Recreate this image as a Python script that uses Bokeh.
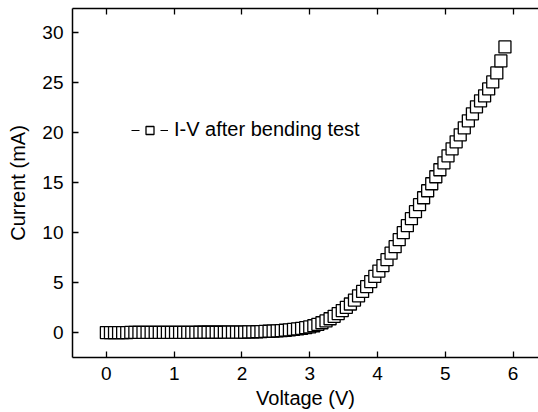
from bokeh.plotting import figure
from bokeh.models import LinearAxis, Range1d, Legend, LegendItem
from bokeh.embed import file_html
from bokeh.resources import INLINE

voltage = [0.00, 0.06, 0.12, 0.18, 0.24, 0.30, 0.36, 0.42, 0.48, 0.54,
           0.60, 0.66, 0.72, 0.78, 0.84, 0.90, 0.96, 1.02, 1.08, 1.14,
           1.20, 1.26, 1.32, 1.38, 1.44, 1.50, 1.56, 1.62, 1.68, 1.74,
           1.80, 1.86, 1.92, 1.98, 2.04, 2.10, 2.16, 2.22, 2.28, 2.34,
           2.40, 2.46, 2.52, 2.58, 2.64, 2.70, 2.76, 2.82, 2.88, 2.94,
           3.00, 3.06, 3.12, 3.18, 3.24, 3.30, 3.36, 3.42, 3.48, 3.54,
           3.60, 3.66, 3.72, 3.78, 3.84, 3.90, 3.96, 4.02, 4.08, 4.14,
           4.20, 4.26, 4.32, 4.38, 4.44, 4.50, 4.56, 4.62, 4.68, 4.74,
           4.80, 4.86, 4.92, 4.98, 5.04, 5.10, 5.16, 5.22, 5.28, 5.34,
           5.40, 5.46, 5.52, 5.58, 5.64, 5.70, 5.76, 5.82, 5.88]

current = [0.00, 0.00, 0.00, 0.00, 0.00, 0.00, 0.01, 0.01, 0.01, 0.01,
           0.01, 0.01, 0.01, 0.01, 0.01, 0.02, 0.02, 0.02, 0.02, 0.02,
           0.02, 0.02, 0.02, 0.03, 0.03, 0.03, 0.03, 0.03, 0.03, 0.03,
           0.04, 0.04, 0.04, 0.04, 0.05, 0.06, 0.07, 0.08, 0.10, 0.11,
           0.13, 0.15, 0.17, 0.20, 0.23, 0.27, 0.31, 0.36, 0.42, 0.49,
           0.57, 0.68, 0.82, 0.98, 1.16, 1.38, 1.62, 1.90, 2.20, 2.52,
           2.86, 3.25, 3.68, 4.12, 4.60, 5.10, 5.62, 6.15, 6.70, 7.30,
           7.95, 8.60, 9.30, 10.0, 10.7, 11.4, 12.1, 12.8, 13.5, 14.2,
           14.9, 15.6, 16.3, 17.0, 17.7, 18.4, 19.1, 19.8, 20.5, 21.2,
           21.9, 22.6, 23.2, 23.7, 24.4, 25.1, 26.0, 27.2, 28.6]

x_ticks = [0, 1, 2, 3, 4, 5, 6]
y_ticks = [0, 5, 10, 15, 20, 25, 30]
legend_text = "I-V after bending test"
x_label = "Voltage (V)"
y_label = "Current (mA)"

FONT = "Liberation Sans"

p = figure(width=538, height=412, output_backend="svg", toolbar_location=None,
           x_range=Range1d(-0.5, 6.375), y_range=Range1d(-2.5, 32.45),
           min_border_left=72, min_border_right=0, min_border_top=8,
           min_border_bottom=55)
p.outline_line_color = None
p.xgrid.visible = False
p.ygrid.visible = False

# connecting line (hidden behind the overlapping squares; gapped in the legend)
ln = p.line(voltage, current, line_color="black", line_width=1.2, line_dash="8 21")
sq = p.scatter(voltage, current, marker="square", size=12, line_color="black",
               line_width=1.3, fill_color="white")

for ax in (p.xaxis[0], p.yaxis[0]):
    ax.axis_line_width = 1.5
    ax.major_tick_in = 6
    ax.major_tick_out = 0
    ax.minor_tick_in = 3
    ax.minor_tick_out = 0
    ax.major_tick_line_width = 1.3
    ax.minor_tick_line_width = 1.3
    ax.major_label_text_font = FONT
    ax.major_label_text_font_size = "19px"
    ax.major_label_text_color = "black"
    ax.axis_label_text_font = FONT
    ax.axis_label_text_font_size = "20px"
    ax.axis_label_text_font_style = "normal"
    ax.axis_label_text_color = "black"

p.xaxis[0].ticker = x_ticks
p.yaxis[0].ticker = y_ticks
p.xaxis[0].ticker.num_minor_ticks = 2
p.yaxis[0].ticker.num_minor_ticks = 2
p.xaxis[0].axis_label = x_label
p.yaxis[0].axis_label = y_label
p.xaxis[0].major_label_standoff = 9
p.xaxis[0].axis_label_standoff = 4
p.yaxis[0].major_label_standoff = 9
p.yaxis[0].axis_label_standoff = 10

top = LinearAxis(ticker=x_ticks, axis_line_width=1.5, major_tick_in=6, major_tick_out=0,
                 minor_tick_in=3, minor_tick_out=0, major_tick_line_width=1.3,
                 minor_tick_line_width=1.3, major_label_standoff=0,
                 major_label_text_font_size="1px",
                 major_label_overrides={t: "" for t in x_ticks})
top.ticker.num_minor_ticks = 2
p.add_layout(top, "above")

legend = Legend(items=[LegendItem(label=legend_text, renderers=[ln, sq])],
                location=(59, 216), padding=0, margin=0, spacing=0,
                border_line_color=None, background_fill_alpha=0,
                glyph_width=37, glyph_height=20, label_standoff=6,
                label_text_font=FONT, label_text_font_size="20px",
                label_text_color="black")
p.add_layout(legend, "center")

open("out.html", "w").write(file_html(p, INLINE))
